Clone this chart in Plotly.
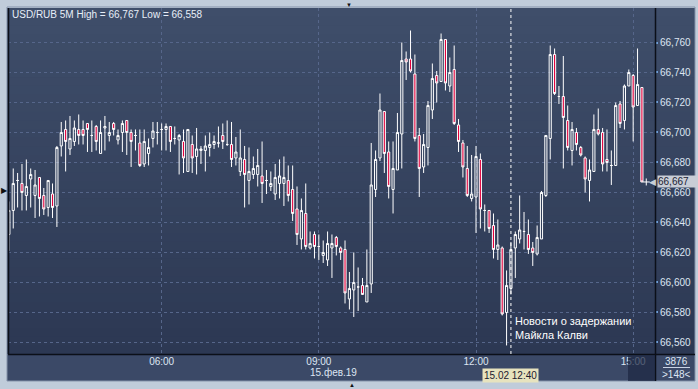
import pandas as pd
import plotly.graph_objects as go

# ---------------- data ----------------
times = pd.date_range("2019-02-15 03:05", periods=146, freq="5min")

opens = [66.632, 66.648, 66.668, 66.666, 66.658, 66.669, 66.658, 66.670, 66.658, 66.650,
         66.659, 66.651, 66.691, 66.702, 66.689, 66.694, 66.702, 66.702, 66.706, 66.698,
         66.704, 66.686, 66.703, 66.698, 66.706, 66.695, 66.700, 66.708, 66.700, 66.698,
         66.693, 66.679, 66.686, 66.696, 66.700, 66.702, 66.702, 66.704, 66.696, 66.695,
         66.694, 66.674, 66.692, 66.684, 66.688, 66.688, 66.690, 66.692, 66.693, 66.698,
         66.692, 66.692, 66.683, 66.674, 66.682, 66.668, 66.672, 66.672, 66.671, 66.668,
         66.664, 66.659, 66.666, 66.666, 66.668, 66.662, 66.649, 66.629, 66.646, 66.623,
         66.632, 66.624, 66.618, 66.615, 66.623, 66.630, 66.623, 66.622, 66.589, 66.595,
         66.597, 66.598, 66.587, 66.599, 66.662, 66.683, 66.714, 66.687, 66.662, 66.675,
         66.699, 66.749, 66.749, 66.739, 66.698, 66.677, 66.690, 66.715, 66.738, 66.734,
         66.762, 66.731, 66.742, 66.705, 66.693, 66.676, 66.656, 66.657, 66.682, 66.648,
         66.648, 66.638, 66.622, 66.623, 66.580, 66.596, 66.623, 66.629, 66.634, 66.632,
         66.623, 66.619, 66.629, 66.658, 66.696, 66.752, 66.724, 66.724, 66.708, 66.688,
         66.700, 66.690, 66.683, 66.668, 66.674, 66.702, 66.700, 66.682, 66.678, 66.678,
         66.719, 66.708, 66.731, 66.738, 66.718, 66.730]
highs = [66.654, 66.676, 66.673, 66.679, 66.682, 66.676, 66.675, 66.670, 66.663, 66.668,
         66.666, 66.691, 66.707, 66.708, 66.711, 66.708, 66.712, 66.708, 66.706, 66.708,
         66.705, 66.708, 66.711, 66.707, 66.707, 66.702, 66.708, 66.708, 66.702, 66.702,
         66.702, 66.702, 66.696, 66.707, 66.707, 66.706, 66.706, 66.704, 66.704, 66.699,
         66.702, 66.702, 66.698, 66.703, 66.691, 66.698, 66.700, 66.698, 66.704, 66.706,
         66.708, 66.707, 66.697, 66.702, 66.691, 66.690, 66.684, 66.689, 66.694, 66.675,
         66.674, 66.679, 66.682, 66.684, 66.678, 66.678, 66.664, 66.656, 66.666, 66.634,
         66.634, 66.632, 66.628, 66.634, 66.632, 66.631, 66.624, 66.628, 66.607, 66.620,
         66.610, 66.603, 66.622, 66.693, 66.688, 66.726, 66.714, 66.694, 66.694, 66.713,
         66.760, 66.754, 66.768, 66.752, 66.703, 66.699, 66.721, 66.746, 66.741, 66.766,
         66.762, 66.750, 66.758, 66.709, 66.695, 66.691, 66.685, 66.691, 66.686, 66.652,
         66.648, 66.646, 66.642, 66.624, 66.608, 66.627, 66.634, 66.658, 66.647, 66.642,
         66.627, 66.638, 66.661, 66.698, 66.758, 66.756, 66.731, 66.751, 66.718, 66.707,
         66.703, 66.691, 66.684, 66.682, 66.712, 66.716, 66.703, 66.702, 66.688, 66.720,
         66.721, 66.732, 66.742, 66.739, 66.756, 66.730]
lows = [66.621, 66.636, 66.650, 66.648, 66.648, 66.650, 66.643, 66.644, 66.645, 66.644,
        66.643, 66.637, 66.684, 66.674, 66.685, 66.691, 66.692, 66.692, 66.687, 66.687,
        66.688, 66.686, 66.688, 66.694, 66.698, 66.692, 66.687, 66.685, 66.677, 66.688,
        66.677, 66.677, 66.678, 66.690, 66.692, 66.688, 66.688, 66.687, 66.692, 66.672,
        66.673, 66.674, 66.673, 66.672, 66.679, 66.674, 66.684, 66.689, 66.690, 66.689,
        66.691, 66.677, 66.678, 66.671, 66.650, 66.652, 66.669, 66.664, 66.653, 66.659,
        66.661, 66.655, 66.656, 66.651, 66.654, 66.641, 66.625, 66.622, 66.622, 66.622,
        66.616, 66.615, 66.613, 66.611, 66.603, 66.618, 66.615, 66.586, 66.582, 66.577,
        66.581, 66.592, 66.587, 66.593, 66.657, 66.681, 66.673, 66.656, 66.646, 66.675,
        66.676, 66.735, 66.740, 66.694, 66.657, 66.673, 66.678, 66.709, 66.720, 66.734,
        66.728, 66.727, 66.705, 66.687, 66.670, 66.657, 66.654, 66.633, 66.636, 66.634,
        66.633, 66.616, 66.615, 66.578, 66.558, 66.592, 66.603, 66.626, 66.622, 66.619,
        66.611, 66.618, 66.629, 66.657, 66.682, 66.725, 66.719, 66.676, 66.688, 66.678,
        66.688, 66.684, 66.660, 66.654, 66.674, 66.698, 66.674, 66.674, 66.665, 66.678,
        66.703, 66.702, 66.731, 66.694, 66.718, 66.667]
closes = [66.648, 66.666, 66.668, 66.660, 66.664, 66.672, 66.665, 66.656, 66.649, 66.668,
          66.650, 66.690, 66.700, 66.694, 66.696, 66.703, 66.698, 66.698, 66.702, 66.698,
          66.694, 66.700, 66.704, 66.700, 66.702, 66.698, 66.706, 66.700, 66.694, 66.698,
          66.678, 66.694, 66.690, 66.701, 66.700, 66.702, 66.704, 66.694, 66.696, 66.698,
          66.683, 66.702, 66.683, 66.689, 66.689, 66.691, 66.692, 66.694, 66.693, 66.694,
          66.692, 66.682, 66.687, 66.683, 66.672, 66.674, 66.676, 66.678, 66.666, 66.668,
          66.666, 66.670, 66.671, 66.670, 66.658, 66.646, 66.632, 66.648, 66.624, 66.626,
          66.624, 66.624, 66.620, 66.626, 66.626, 66.624, 66.620, 66.593, 66.596, 66.600,
          66.597, 66.592, 66.598, 66.665, 66.682, 66.715, 66.686, 66.664, 66.676, 66.700,
          66.748, 66.747, 66.741, 66.696, 66.676, 66.692, 66.718, 66.736, 66.733, 66.762,
          66.733, 66.740, 66.706, 66.694, 66.677, 66.658, 66.659, 66.684, 66.649, 66.648,
          66.636, 66.622, 66.625, 66.579, 66.598, 66.622, 66.632, 66.635, 66.634, 66.622,
          66.620, 66.630, 66.660, 66.698, 66.752, 66.726, 66.724, 66.710, 66.690, 66.702,
          66.692, 66.685, 66.669, 66.675, 66.702, 66.699, 66.679, 66.680, 66.678, 66.718,
          66.706, 66.731, 66.740, 66.717, 66.732, 66.667]

y_ticks = [66.560, 66.580, 66.600, 66.620, 66.640, 66.660, 66.680, 66.700, 66.720, 66.740, 66.760]
y_tick_labels = ["66,560", "66,580", "66,600", "66,620", "66,640", "66,660",
                 "66,680", "66,700", "66,720", "66,740", "66,760"]
x_ticks = ["2019-02-15 06:00", "2019-02-15 09:00", "2019-02-15 12:00", "2019-02-15 15:00"]
x_tick_labels = ["06:00", "09:00", "12:00", "15:00"]
title_text = "USD/RUB 5M High = 66,767 Low = 66,558"
news_time = "2019-02-15 12:40"
news_text = "Новости о задержании<br>Майкла Калви"
date_label = "15.фев.19"
cursor_label = "15.02 12:40"
bars_info = ["3876", ">148<"]

# ---------------- layout helpers ----------------
W, H = 698, 389
L, R, T, B = 8, 655, 8, 354


def px(x):
    return (x - L) / (R - L)


def py(y):
    return (B - y) / (B - T)


def lerp(c1, c2, t):
    return "rgb(%d,%d,%d)" % tuple(round(a + (b - a) * t) for a, b in zip(c1, c2))


TEXT = "#dde5f2"
GRID = "#56668a"
top_c, bot_c = (63, 78, 106), (44, 56, 83)

fig = go.Figure()
fig.add_trace(go.Candlestick(
    x=times, open=opens, high=highs, low=lows, close=closes,
    increasing=dict(line=dict(color="white", width=1), fillcolor="rgba(0,0,0,0)"),
    decreasing=dict(line=dict(color="white", width=1), fillcolor="#e2003c"),
    whiskerwidth=0, showlegend=False, hoverinfo="skip"))

last_t = times[-1] + pd.Timedelta(minutes=5)
fig.add_trace(go.Scatter(x=[last_t], y=[closes[-1]], mode="markers",
                         marker=dict(symbol="cross-thin", size=5, line=dict(color="white", width=1)),
                         showlegend=False, hoverinfo="skip"))

shapes = []
# gradient panel background: stacked bands (each reaches the bottom) -> no seams
n = 40
for i in range(n):
    y0 = T + (B - T) * i / n
    shapes.append(dict(type="rect", xref="paper", yref="paper", layer="below",
                       x0=px(7), x1=px(695), y0=py(B), y1=py(y0),
                       fillcolor=lerp(top_c, bot_c, (i + 0.5) / n), line=dict(width=0)))
# bottom axis strip
shapes.append(dict(type="rect", xref="paper", yref="paper", layer="below",
                   x0=px(7), x1=px(695), y0=py(381), y1=py(B),
                   fillcolor="#3b4967", line=dict(width=0)))
# panel border
shapes.append(dict(type="rect", xref="paper", yref="paper", layer="above",
                   x0=px(7), x1=px(695), y0=py(381), y1=py(7),
                   fillcolor="rgba(0,0,0,0)", line=dict(color="#8593aa", width=1)))
# separators
shapes.append(dict(type="line", xref="paper", yref="paper", layer="above",
                   x0=px(8.5), x1=px(8.5), y0=py(B), y1=py(8), line=dict(color="#0b0f18", width=1.5)))
shapes.append(dict(type="line", xref="paper", yref="paper", layer="above",
                   x0=px(655.5), x1=px(655.5), y0=py(381), y1=py(8), line=dict(color="#0b0f18", width=1.5)))
shapes.append(dict(type="line", xref="paper", yref="paper", layer="above",
                   x0=px(8), x1=px(695), y0=py(354.5), y1=py(354.5), line=dict(color="#0b0f18", width=1.5)))
# cursor line
shapes.append(dict(type="line", xref="x", yref="paper", layer="above",
                   x0=news_time, x1=news_time, y0=0, y1=1,
                   line=dict(color="white", width=1, dash="dot")))
# dark box over 15:00 label
shapes.append(dict(type="rect", xref="paper", yref="paper", layer="above",
                   x0=px(628), x1=px(655), y0=py(381), y1=py(355),
                   fillcolor="#1c2742", opacity=0.7, line=dict(width=0)))
# separator between bar info lines
shapes.append(dict(type="line", xref="paper", yref="paper", layer="above",
                   x0=px(663), x1=px(690), y0=py(367.5), y1=py(367.5),
                   line=dict(color="#c9d3e4", width=1)))

ann = []
ann.append(dict(text=title_text, xref="paper", yref="paper", x=px(10), y=py(14.5),
                xanchor="left", yanchor="middle", showarrow=False,
                font=dict(size=10, color="#e8eef8")))
ann.append(dict(text=news_text, xref="x", yref="paper", x=news_time, xshift=2, y=py(343),
                xanchor="left", yanchor="bottom", align="left", showarrow=False,
                font=dict(size=11, color="white")))
ann.append(dict(text=date_label, xref="paper", yref="paper", x=px(333), y=py(372),
                xanchor="center", yanchor="middle", showarrow=False,
                font=dict(size=10, color=TEXT)))
ann.append(dict(text=cursor_label, xref="x", yref="paper", x=news_time, y=py(375),
                xanchor="center", yanchor="middle", showarrow=False,
                bgcolor="#e7e3be", borderpad=1, font=dict(size=10, color="#1c2030")))
ann.append(dict(text=bars_info[0], xref="paper", yref="paper", x=px(676), y=py(361),
                xanchor="center", yanchor="middle", showarrow=False,
                font=dict(size=10, color=TEXT)))
ann.append(dict(text=bars_info[1], xref="paper", yref="paper", x=px(676), y=py(374.5),
                xanchor="center", yanchor="middle", showarrow=False,
                font=dict(size=10, color=TEXT)))
# last price tag
price_txt = ("%.3f" % closes[-1]).replace(".", ",")
ann.append(dict(text="◀", xref="paper", yref="y", x=px(658), y=closes[-1],
                xanchor="right", yanchor="middle", showarrow=False,
                font=dict(size=9, color="#c8cdd6")))
ann.append(dict(text=price_txt, xref="paper", yref="y", x=px(657), y=closes[-1],
                xanchor="left", yanchor="middle", showarrow=False,
                bgcolor="#c8cdd6", borderpad=0, width=40, align="left",
                font=dict(size=10, color="#1a2233")))
# navigation triangles
ann.append(dict(text="▶", xref="paper", yref="paper", x=px(4), y=py(190),
                xanchor="center", yanchor="middle", showarrow=False,
                font=dict(size=8, color="#111")))
ann.append(dict(text="▼", xref="paper", yref="paper", x=px(349), y=py(4.5),
                xanchor="center", yanchor="middle", showarrow=False,
                font=dict(size=6, color="#111")))
ann.append(dict(text="▲", xref="paper", yref="paper", x=px(352), y=py(384.5),
                xanchor="center", yanchor="middle", showarrow=False,
                font=dict(size=6, color="#111")))

fig.update_layout(
    width=W, height=H, autosize=False,
    margin=dict(l=L, r=W - R, t=T, b=H - B, pad=0),
    paper_bgcolor="#c0ccda", plot_bgcolor="rgba(0,0,0,0)",
    font=dict(family="Liberation Sans, Arial, sans-serif", size=10, color=TEXT),
    shapes=shapes, annotations=ann, showlegend=False, boxgap=0.3,
    xaxis=dict(type="date", range=["2019-02-15 03:04", "2019-02-15 15:25"],
               rangeslider=dict(visible=False), tickvals=x_ticks, ticktext=x_tick_labels,
               showgrid=True, gridcolor=GRID, griddash="3px,3px", gridwidth=1,
               ticks="", showline=False, zeroline=False, tickfont=dict(size=10, color=TEXT),
               fixedrange=True),
    yaxis=dict(side="right", range=[66.5523, 66.783], tickvals=y_ticks, ticktext=y_tick_labels,
               showgrid=True, gridcolor=GRID, griddash="3px,3px", gridwidth=1,
               ticks="outside", ticklen=2, tickwidth=2, tickcolor="#6f9fd8",
               showline=False, zeroline=False, tickfont=dict(size=10, color=TEXT),
               fixedrange=True),
)

fig.write_html("out.html")
